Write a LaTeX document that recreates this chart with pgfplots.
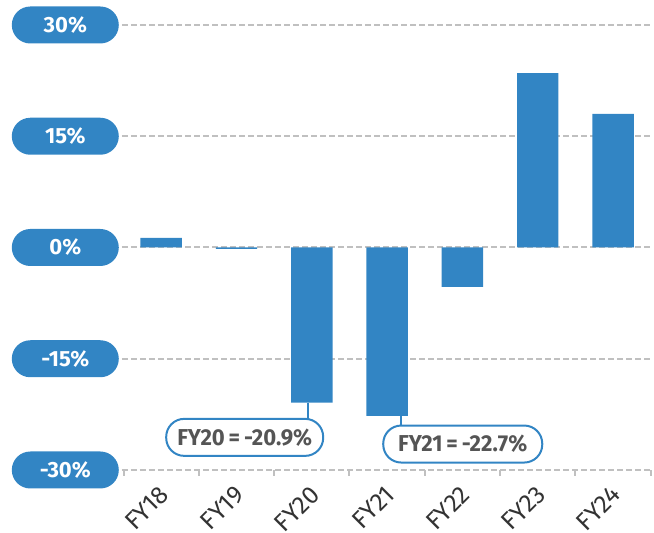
\documentclass[border=0pt]{standalone}
\usepackage{pgfplots}
\pgfplotsset{compat=1.18}
\usepackage{fontspec}
\setmainfont{Fira Sans}
\newfontfamily\condfont[FakeStretch=0.96]{Fira Sans}
\usetikzlibrary{calc}
\definecolor{barblue}{RGB}{50,133,196}
\definecolor{gridgray}{RGB}{192,192,192}
\definecolor{txtgray}{RGB}{85,85,85}
\begin{document}
\begin{tikzpicture}
\begin{axis}[
  scale only axis,
  width=531pt, height=445pt,
  xmin=-0.52, xmax=6.53,
  ymin=-30, ymax=30,
  axis x line*=bottom, axis y line*=left,
  x axis line style={gridgray, line width=2pt, dash pattern=on 6pt off 3pt},
  y axis line style={draw=none},
  ytick={-30,-15,0,15,30},
  yticklabels={-30\%,-15\%,0\%,15\%,30\%},
  ymajorgrids,
  grid style={gridgray, line width=2pt, dash pattern=on 6pt off 3pt},
  xtick={0,...,6},
  xticklabels={FY18,FY19,FY20,FY21,FY22,FY23,FY24},
  minor xtick={-0.5,0.5,...,6.5},
  major tick length=0pt,
  minor tick length=6pt,
  tick align=outside,
  minor tick style={gridgray, line width=2pt},
  yticklabel style={font=\bfseries\fontsize{22}{22}\selectfont, text=white, fill=barblue,
    rounded corners=18.5pt, minimum width=107pt, minimum height=37pt, inner sep=0pt,
    anchor=east, xshift=-3pt},
  xticklabel style={xshift=-3pt, yshift=-14pt, font=\fontsize{25}{25}\selectfont, text=black!80, rotate=45,
    anchor=north east, inner sep=0pt},
  clip=false,
]
\addplot[ybar, bar width=0.55, bar shift=0pt, fill=barblue, draw=none]
  coordinates {(0,1.3) (1,-0.2) (2,-20.9) (3,-22.7) (4,-5.3) (5,23.5) (6,18.0)};
\draw[barblue, line width=2pt] (axis cs:1.946,-20.9) -- (axis cs:1.946,-23.1);
\draw[barblue, line width=2pt] (axis cs:3.183,-22.7) -- (axis cs:3.183,-24.0);
\node[draw=barblue, line width=2pt, fill=white, rounded corners=18pt,
  minimum width=157pt, minimum height=37pt, inner sep=0pt, text=txtgray,
  font=\condfont\bfseries\fontsize{23}{23}\selectfont]
  at (axis cs:1.109,-25.6) {FY20\,=\,-20.9\%};
\node[draw=barblue, line width=2pt, fill=white, rounded corners=18pt,
  minimum width=159pt, minimum height=37pt, inner sep=0pt, text=txtgray,
  font=\condfont\bfseries\fontsize{23}{23}\selectfont]
  at (axis cs:4.004,-26.5) {FY21\,=\,-22.7\%};
\end{axis}
\pgfresetboundingbox
\path[use as bounding box] ($(current axis.south west)+(-122pt,-63pt)$) rectangle ($(current axis.north east)+(1pt,25pt)$);
\end{tikzpicture}
\end{document}
